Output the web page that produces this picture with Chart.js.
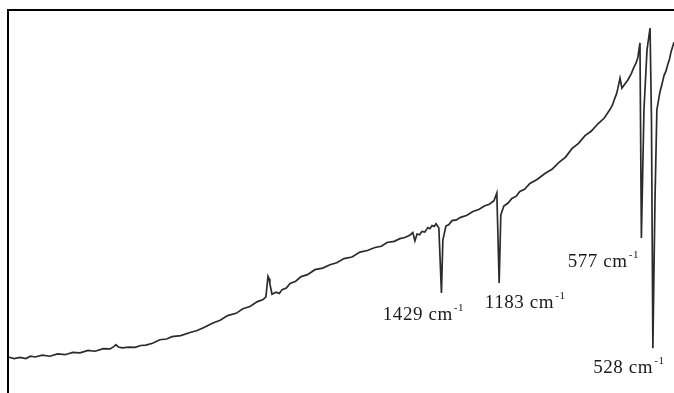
<!DOCTYPE html>
<html>
<head>
<meta charset="utf-8">
<title>IR spectrum</title>
<script src="https://cdn.jsdelivr.net/npm/chart.js@4/dist/chart.umd.min.js"></script>
<style>
  html, body { margin: 0; padding: 0; background: #fff; overflow: hidden; }
  #wrap { position: relative; width: 674px; height: 393px; }
</style>
</head>
<body>
<div id="wrap"><canvas id="c" width="674" height="393"></canvas></div>
<script>
// Wavenumber (cm-1), high to low across the plot
const wavenumbers = [
  3276, 3250, 3225, 3200, 3180, 3161, 3130, 3097, 3065, 3033,
  3000, 2969, 2935, 2905, 2870, 2841, 2825, 2816, 2805, 2790,
  2760, 2735, 2710, 2688, 2660, 2629, 2600, 2577, 2540, 2500,
  2470, 2441, 2405, 2372, 2340, 2304, 2275, 2245, 2215, 2189,
  2177, 2168, 2163, 2160, 2151, 2134, 2120, 2108, 2090, 2074,
  2050, 2027, 2000, 1968, 1935, 1904, 1875, 1844, 1810, 1776,
  1745, 1712, 1685, 1661, 1630, 1606, 1585, 1564, 1551, 1542,
  1533, 1522, 1512, 1500, 1487, 1478, 1469, 1460, 1452, 1440,
  1429, 1423, 1410, 1397, 1384, 1365, 1350, 1320, 1295, 1270,
  1244, 1225, 1205, 1193, 1183, 1176, 1163, 1145, 1129, 1110,
  1095, 1075, 1052, 1020, 988, 958, 928, 900, 873, 845,
  817, 790, 762, 735, 711, 700, 690, 683, 677, 668,
  660, 648, 634, 620, 609, 600, 592, 583, 577, 566,
  553, 540, 534, 528, 519, 511, 498, 490, 481, 472,
  464, 457, 451, 438
];

// Transmittance (%)
const transmittance = [
  9.4, 9.0, 9.3, 9.0, 9.6, 9.4, 9.9, 9.6, 10.2, 10.0,
  10.6, 10.5, 11.1, 10.9, 11.6, 11.5, 12.1, 12.6, 12.0, 11.8,
  12.0, 11.9, 12.4, 12.5, 13.0, 13.9, 14.1, 14.7, 15.0, 15.8,
  16.3, 17.1, 18.2, 19.0, 20.2, 20.8, 22.0, 22.6, 23.8, 24.4,
  25.1, 30.5, 29.8, 28.5, 25.8, 26.3, 26.0, 27.0, 27.4, 28.6,
  29.2, 30.4, 30.9, 32.2, 32.6, 33.5, 34.0, 35.1, 35.5, 36.8,
  37.2, 38.0, 38.3, 39.3, 39.6, 40.3, 40.6, 41.2, 41.9, 39.7,
  41.5, 41.3, 42.2, 42.0, 43.2, 42.9, 43.7, 43.5, 44.2, 43.1,
  26.1, 39.9, 43.6, 44.0, 45.0, 45.2, 45.8, 46.4, 47.4, 47.9,
  48.9, 49.3, 50.2, 52.2, 28.7, 46.5, 48.8, 49.6, 50.8, 51.4,
  52.6, 53.2, 54.7, 55.8, 57.3, 58.4, 60.2, 61.6, 63.8, 65.2,
  67.2, 68.4, 70.3, 71.8, 74.0, 75.2, 77.0, 78.1, 79.6, 82.2,
  79.6, 80.6, 81.8, 83.4, 85.0, 86.1, 87.6, 91.4, 40.5, 73.9,
  89.6, 95.3, 71.3, 11.7, 50.4, 73.9, 78.6, 80.4, 82.8, 84.1,
  85.9, 87.2, 89.0, 91.6
];

// Assigned bands (cm-1)
const bandPositions = [1429, 1183, 577, 528];

const points = wavenumbers.map((w, i) => ({ x: w, y: transmittance[i] }));

function valueAt(w) {
  return transmittance[wavenumbers.indexOf(w)];
}

// Label placement relative to each band minimum (pixels)
const bandLabelStyle = {
  1429: { dx: -18, dy: 22 },
  1183: { dx: 26, dy: 20 },
  577:  { dx: -38, dy: 24 },
  528:  { dx: -24, dy: 20 }
};

const framePlugin = {
  id: 'frame',
  afterDraw(chart) {
    const { ctx, chartArea } = chart;
    ctx.save();
    ctx.strokeStyle = '#000';
    ctx.lineWidth = 2;
    ctx.beginPath();
    ctx.moveTo(chartArea.left, chartArea.bottom);
    ctx.lineTo(chartArea.left, chartArea.top);
    ctx.lineTo(chartArea.right, chartArea.top);
    ctx.stroke();
    ctx.restore();
  }
};

const MAIN_FONT = '19px "Liberation Serif", "Times New Roman", serif';
const SUP_FONT = '11px "Liberation Serif", "Times New Roman", serif';

const bandLabelPlugin = {
  id: 'bandLabels',
  afterDatasetsDraw(chart) {
    const { ctx, scales } = chart;
    ctx.save();
    ctx.fillStyle = '#1a1a1a';
    ctx.textBaseline = 'middle';
    ctx.textAlign = 'left';
    if ('letterSpacing' in ctx) ctx.letterSpacing = '0.6px';
    bandPositions.forEach(w => {
      const s = bandLabelStyle[w];
      const px = scales.x.getPixelForValue(w) + s.dx;
      const py = scales.y.getPixelForValue(valueAt(w)) + s.dy;
      const main = w + ' cm';
      const sup = '-1';
      ctx.font = MAIN_FONT;
      const wMain = ctx.measureText(main).width;
      ctx.font = SUP_FONT;
      const wSup = ctx.measureText(sup).width;
      const total = wMain + wSup + 1;
      const x0 = px - total / 2;
      ctx.font = MAIN_FONT;
      ctx.fillText(main, x0, py);
      ctx.font = SUP_FONT;
      ctx.fillText(sup, x0 + wMain + 1, py - 7);
    });
    ctx.restore();
  }
};

new Chart(document.getElementById('c'), {
  type: 'line',
  data: {
    datasets: [{
      data: points,
      borderColor: '#2b2b2b',
      borderWidth: 1.7,
      pointRadius: 0,
      tension: 0,
      fill: false
    }]
  },
  options: {
    responsive: false,
    animation: false,
    layout: { padding: { left: 8, top: 10, right: 0, bottom: 0 } },
    plugins: { legend: { display: false }, tooltip: { enabled: false } },
    scales: {
      x: { type: 'linear', reverse: true, min: 438, max: 3276, display: false },
      y: { type: 'linear', min: 0, max: 100, display: false }
    }
  },
  plugins: [framePlugin, bandLabelPlugin]
});
</script>
</body>
</html>
